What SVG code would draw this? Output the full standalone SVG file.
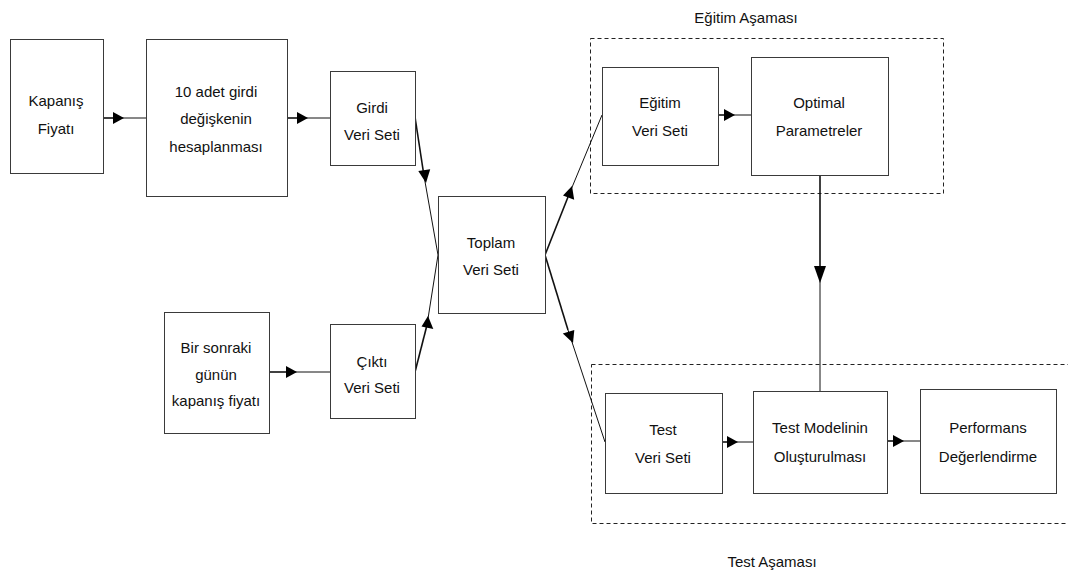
<svg xmlns="http://www.w3.org/2000/svg" width="1068" height="577" viewBox="0 0 1068 577">
<style>
.box{fill:#fff;stroke:#3a3a3a;stroke-width:1}
.grp{fill:none;stroke:#222;stroke-width:1;stroke-dasharray:4 3}
text{font-family:"Liberation Sans",Arial,sans-serif;font-size:15px;fill:#111;text-anchor:middle}
.th{stroke:#111;stroke-width:1.6;fill:none}
.tn{stroke:#111;stroke-width:1;fill:none}
.ah{fill:#000}
</style>
<rect width="1068" height="577" fill="#fff"/>
<g id="group-egitim">
<rect class="grp" x="590.5" y="38.5" width="353" height="155"/>
<text x="746" y="23">Eğitim Aşaması</text>
</g>
<g id="group-test">
<rect class="grp" x="591.5" y="364.5" width="490" height="159"/>
<text x="772" y="567">Test Aşaması</text>
</g>
<g id="connectors">
<line class="th" x1="103" y1="118" x2="114" y2="118"/><line class="tn" x1="114" y1="118" x2="146" y2="118"/>
<polygon class="ah" points="124,118 113,112 113,124"/>
<line class="th" x1="287" y1="118" x2="298" y2="118"/><line class="tn" x1="298" y1="118" x2="330" y2="118"/>
<polygon class="ah" points="308,118 297,112 297,124"/>
<line class="th" x1="269" y1="372" x2="287" y2="372"/><line class="tn" x1="287" y1="372" x2="330" y2="372"/>
<polygon class="ah" points="297,372 286,366 286,378"/>
<line class="th" x1="415" y1="117" x2="424" y2="176"/><line class="tn" x1="424" y1="176" x2="438" y2="255"/>
<polygon class="ah" points="426,183 418.3,171 430.2,169.2"/>
<line class="th" x1="415" y1="372" x2="427" y2="325"/><line class="tn" x1="427" y1="325" x2="438" y2="255"/>
<polygon class="ah" points="428,316 433.3,329 421.5,326.5"/>
<line class="th" x1="545" y1="255" x2="568" y2="197"/><line class="tn" x1="568" y1="197" x2="602" y2="115"/>
<polygon class="ah" points="572,186 574.2,199.8 563.0,195.4"/>
<line class="th" x1="545" y1="255" x2="568" y2="330"/><line class="tn" x1="568" y1="330" x2="605" y2="442"/>
<polygon class="ah" points="573,343 562.8,333.5 574.3,329.9"/>
<line class="th" x1="718" y1="115" x2="726" y2="115"/><line class="tn" x1="726" y1="115" x2="751" y2="115"/>
<polygon class="ah" points="735,115 724,109 724,121"/>
<line class="th" x1="820" y1="175" x2="820" y2="272"/><line class="tn" x1="820" y1="272" x2="820" y2="391"/>
<polygon class="ah" points="820,283 814,266 826,266"/>
<line class="th" x1="722" y1="442" x2="730" y2="442"/><line class="tn" x1="730" y1="442" x2="753" y2="442"/>
<polygon class="ah" points="738,442 727,436 727,448"/>
<line class="th" x1="887" y1="441" x2="895" y2="441"/><line class="tn" x1="895" y1="441" x2="920" y2="441"/>
<polygon class="ah" points="904,441 893,435 893,447"/>
</g>
<g id="kapanis">
<rect class="box" x="10.5" y="39.5" width="93" height="134"/>
<text x="56" y="106">Kapanış</text><text x="56" y="134">Fiyatı</text>
</g>
<g id="hesaplama">
<rect class="box" x="146.5" y="39.5" width="141" height="157"/>
<text x="216" y="97">10 adet girdi</text><text x="216" y="124">değişkenin</text><text x="216" y="152">hesaplanması</text>
</g>
<g id="girdi">
<rect class="box" x="330.5" y="71.5" width="85" height="94"/>
<text x="372" y="113">Girdi</text><text x="372" y="140">Veri Seti</text>
</g>
<g id="birsonraki">
<rect class="box" x="164.5" y="312.5" width="105" height="121"/>
<text x="216" y="353">Bir sonraki</text><text x="216" y="380">günün</text><text x="216" y="406">kapanış fiyatı</text>
</g>
<g id="cikti">
<rect class="box" x="330.5" y="324.5" width="85" height="94"/>
<text x="372" y="367">Çıktı</text><text x="372" y="393">Veri Seti</text>
</g>
<g id="toplam">
<rect class="box" x="438.5" y="196.5" width="107" height="117"/>
<text x="491" y="248">Toplam</text><text x="491" y="275">Veri Seti</text>
</g>
<g id="egitim">
<rect class="box" x="602.5" y="67.5" width="116" height="98"/>
<text x="660" y="108">Eğitim</text><text x="660" y="136">Veri Seti</text>
</g>
<g id="optimal">
<rect class="box" x="751.5" y="57.5" width="137" height="118"/>
<text x="819" y="108">Optimal</text><text x="819" y="136">Parametreler</text>
</g>
<g id="test">
<rect class="box" x="605.5" y="393.5" width="117" height="100"/>
<text x="663" y="435">Test</text><text x="663" y="463">Veri Seti</text>
</g>
<g id="testmodel">
<rect class="box" x="753.5" y="391.5" width="134" height="102"/>
<text x="820" y="433">Test Modelinin</text><text x="820" y="462">Oluşturulması</text>
</g>
<g id="performans">
<rect class="box" x="920.5" y="389.5" width="136" height="104"/>
<text x="988" y="433">Performans</text><text x="988" y="462">Değerlendirme</text>
</g>
</svg>
